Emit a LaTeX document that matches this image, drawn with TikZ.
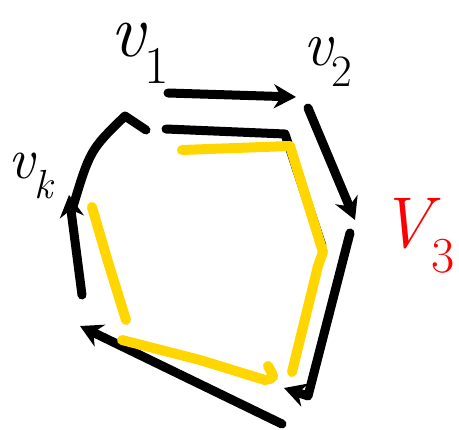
\documentclass[tikz,border=0pt]{standalone}
\usetikzlibrary{arrows.meta}
\definecolor{gold}{RGB}{255,214,0}
\definecolor{inkred}{RGB}{255,0,0}
\begin{document}
\begin{tikzpicture}[x=1pt, y=-1pt, >={Stealth[length=22pt,width=24pt]},
    line cap=round, line join=round,
    blackline/.style={draw=black, line width=9pt},
    yellowline/.style={draw=gold, line width=10pt},
    lbl/.style={inner sep=0pt, font=\fontsize{76}{76}\selectfont\itshape}]
    \useasboundingbox (0,0) rectangle (459,430);
    % vertices
    \coordinate (v1) at (168,93);
    \coordinate (v2) at (296,97);
    \coordinate (v2s) at (308,108);
    \coordinate (v3) at (355,220);
    \coordinate (v3s) at (350,233);
    \coordinate (v4b) at (308,396);
    \coordinate (v4) at (284,388);
    \coordinate (v4s) at (282,424);
    \coordinate (v5) at (80,326);
    \coordinate (v5s) at (82,295);
    \coordinate (vk) at (69,195);
    \coordinate (vks) at (72,210);
    \coordinate (top) at (125,116);
    \coordinate (topend) at (146,130);
    % labels
    \node[lbl] (l1) at (140,53) {v\textsubscript{\upshape 1}};
    \node[lbl, font=\fontsize{64}{64}\selectfont\itshape] (l2) at (328,62) {v\textsubscript{\upshape 2}};
    \node[lbl, text=inkred, font=\fontsize{72}{72}\selectfont\itshape] (l3) at (417,236) {V\textsubscript{\upshape 3}};
    \node[lbl, font=\fontsize{58}{58}\selectfont\itshape] (lk) at (31,176) {v\textsubscript{k}};
    % black cycle
    \draw[blackline, ->] (v1) -- (v2);
    \draw[blackline, ->] (v2s) -- (v3);
    \draw[blackline, ->] (v3s) -- (v4b) -- (v4);
    \draw[blackline, ->] (v4s) -- (v5);
    \draw[blackline, ->] (v5s) -- (vk);
    \draw[blackline] (vks) .. controls (90,150) .. (top) -- (topend);
    \draw[blackline] (166,129) -- (285,134) -- (322,246);
    % yellow cycle
    \draw[yellowline] (182,150) -- (290,146) -- (323,252) -- (318,266) -- (292,372);
    \draw[yellowline] (122,340) -- (200,360) -- (265,380) .. controls (275,378) .. (268,366);
    \draw[yellowline] (92,207) -- (108,262) -- (126,320);
\end{tikzpicture}
\end{document}
